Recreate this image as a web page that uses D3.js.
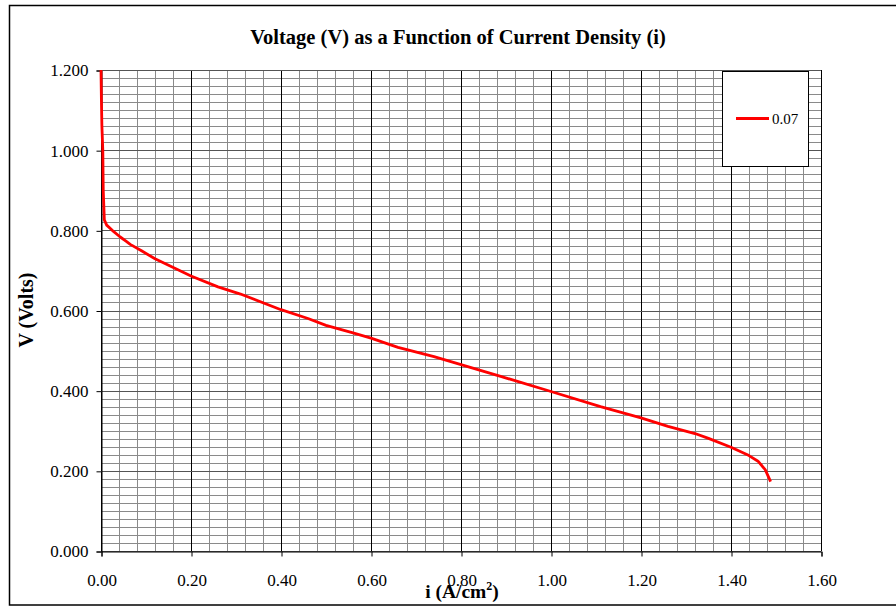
<!DOCTYPE html>
<html>
<head>
<meta charset="utf-8">
<script src="https://cdn.jsdelivr.net/npm/d3@7"></script>
<style>
  body { margin: 0; background: #fff; }
  text { font-family: "Liberation Serif", "Times New Roman", serif; }
</style>
</head>
<body>
<div id="chart"></div>
<script>
// current density (A/cm2) and cell voltage (V)
var currentDensity = [0, 0.001, 0.002, 0.004, 0.005, 0.0074, 0.0126, 0.025, 0.042, 0.057, 0.065, 0.09, 0.12,
    0.2, 0.26, 0.31, 0.4, 0.46, 0.5, 0.56, 0.6, 0.66, 0.74, 0.8, 0.89, 1.0, 1.11, 1.2, 1.26, 1.32, 1.35,
    1.40, 1.44, 1.46, 1.476, 1.488];
var voltage = [1.2, 1.12, 1.06, 1.0, 0.9, 0.826, 0.813, 0.80, 0.784, 0.772, 0.765, 0.749, 0.729,
    0.686, 0.659, 0.641, 0.602, 0.580, 0.563, 0.544, 0.531, 0.508, 0.485, 0.465, 0.435, 0.398, 0.360, 0.332, 0.311, 0.293, 0.281,
    0.259, 0.238, 0.224, 0.203, 0.173];
var seriesName = "0.07";
var xTicks = [0, 0.2, 0.4, 0.6, 0.8, 1.0, 1.2, 1.4, 1.6];
var yTicks = [0, 0.2, 0.4, 0.6, 0.8, 1.0, 1.2];

var WIDTH = 896, HEIGHT = 606;
var plotLeft = 101, plotRight = 821, plotTop = 70, plotBottom = 551;

var svg = d3.select("#chart").append("svg")
    .attr("width", WIDTH)
    .attr("height", HEIGHT);

// outer frame
svg.append("rect")
    .attr("x", 9.5).attr("y", 5.5)
    .attr("width", 900).attr("height", 599.5)
    .attr("fill", "#fff")
    .attr("stroke", "#000").attr("stroke-width", 1.5);

var x = d3.scaleLinear().domain([0, 1.6]).range([plotLeft, plotRight]);
var y = d3.scaleLinear().domain([0, 1.2]).range([plotBottom, plotTop]);

var grid = svg.append("g").attr("id", "grid");

// minor grid
grid.selectAll("line.vminor")
    .data(d3.range(0, 41).map(function (k) { return k * 0.04; }))
    .enter().append("line")
    .attr("class", "vminor")
    .attr("x1", function (d) { return Math.round(x(d)) + 0.5; })
    .attr("x2", function (d) { return Math.round(x(d)) + 0.5; })
    .attr("y1", plotTop).attr("y2", plotBottom)
    .attr("stroke", "#8a8a8a");

grid.selectAll("line.hminor")
    .data(d3.range(0, 61).map(function (k) { return k * 0.02; }))
    .enter().append("line")
    .attr("class", "hminor")
    .attr("y1", function (d) { return Math.round(y(d)) + 0.5; })
    .attr("y2", function (d) { return Math.round(y(d)) + 0.5; })
    .attr("x1", plotLeft).attr("x2", plotRight)
    .attr("stroke", "#8a8a8a");

// major grid
grid.selectAll("line.vmajor")
    .data(xTicks)
    .enter().append("line")
    .attr("class", "vmajor")
    .attr("x1", function (d) { return Math.round(x(d)) + 0.5; })
    .attr("x2", function (d) { return Math.round(x(d)) + 0.5; })
    .attr("y1", plotTop).attr("y2", plotBottom)
    .attr("stroke", "#000");

grid.selectAll("line.hmajor")
    .data(yTicks)
    .enter().append("line")
    .attr("class", "hmajor")
    .attr("y1", function (d) { return Math.round(y(d)) + 0.5; })
    .attr("y2", function (d) { return Math.round(y(d)) + 0.5; })
    .attr("x1", plotLeft).attr("x2", plotRight)
    .attr("stroke", "#555");

// axes
var xAxis = svg.append("g")
    .attr("transform", "translate(0.5," + (plotBottom + 0.5) + ")")
    .call(d3.axisBottom(x).tickValues(xTicks).tickFormat(d3.format(".2f")).tickSize(5).tickPadding(17));
var yAxis = svg.append("g")
    .attr("transform", "translate(" + (plotLeft + 0.5) + ",0.5)")
    .call(d3.axisLeft(y).tickValues(yTicks).tickFormat(d3.format(".3f")).tickSize(5).tickPadding(8));

[xAxis, yAxis].forEach(function (a) {
    a.select(".domain").attr("stroke", "#000");
    a.selectAll(".tick line").attr("stroke", "#000");
    a.selectAll(".tick text")
        .attr("fill", "#000")
        .style("font-family", "'Liberation Serif', serif")
        .style("font-size", "17px");
});

// curve
var pts = currentDensity.map(function (d, i) { return [d, voltage[i]]; });
svg.append("path")
    .datum(pts)
    .attr("fill", "none")
    .attr("stroke", "#ff0000")
    .attr("stroke-width", 2.8)
    .attr("stroke-linejoin", "round")
    .attr("d", d3.line()
        .x(function (d) { return x(d[0]); })
        .y(function (d) { return y(d[1]); }));

// legend
var legend = svg.append("g").attr("id", "legend");
legend.append("rect")
    .attr("x", 722.5).attr("y", 71.5)
    .attr("width", 86).attr("height", 95)
    .attr("fill", "#fff")
    .attr("stroke", "#000");
legend.append("line")
    .attr("x1", 736).attr("x2", 769)
    .attr("y1", 118.5).attr("y2", 118.5)
    .attr("stroke", "#ff0000").attr("stroke-width", 2.8);
legend.append("text")
    .attr("x", 772).attr("y", 123.5)
    .style("font-size", "15px")
    .text(seriesName);

// titles
svg.append("text")
    .attr("x", 458).attr("y", 44)
    .attr("text-anchor", "middle")
    .style("font-size", "20.5px").style("font-weight", "bold")
    .text("Voltage (V) as a Function of Current Density (i)");

svg.append("text")
    .attr("transform", "translate(33,310) rotate(-90)")
    .attr("text-anchor", "middle")
    .style("font-size", "20px").style("font-weight", "bold")
    .text("V (Volts)");

var xt = svg.append("text")
    .attr("x", 462).attr("y", 598)
    .attr("text-anchor", "middle")
    .style("font-size", "19.5px").style("font-weight", "bold");
xt.append("tspan").text("i (A/cm");
xt.append("tspan").attr("dy", -8).style("font-size", "12px").text("2");
xt.append("tspan").attr("dy", 8).text(")");
</script>
</body>
</html>
